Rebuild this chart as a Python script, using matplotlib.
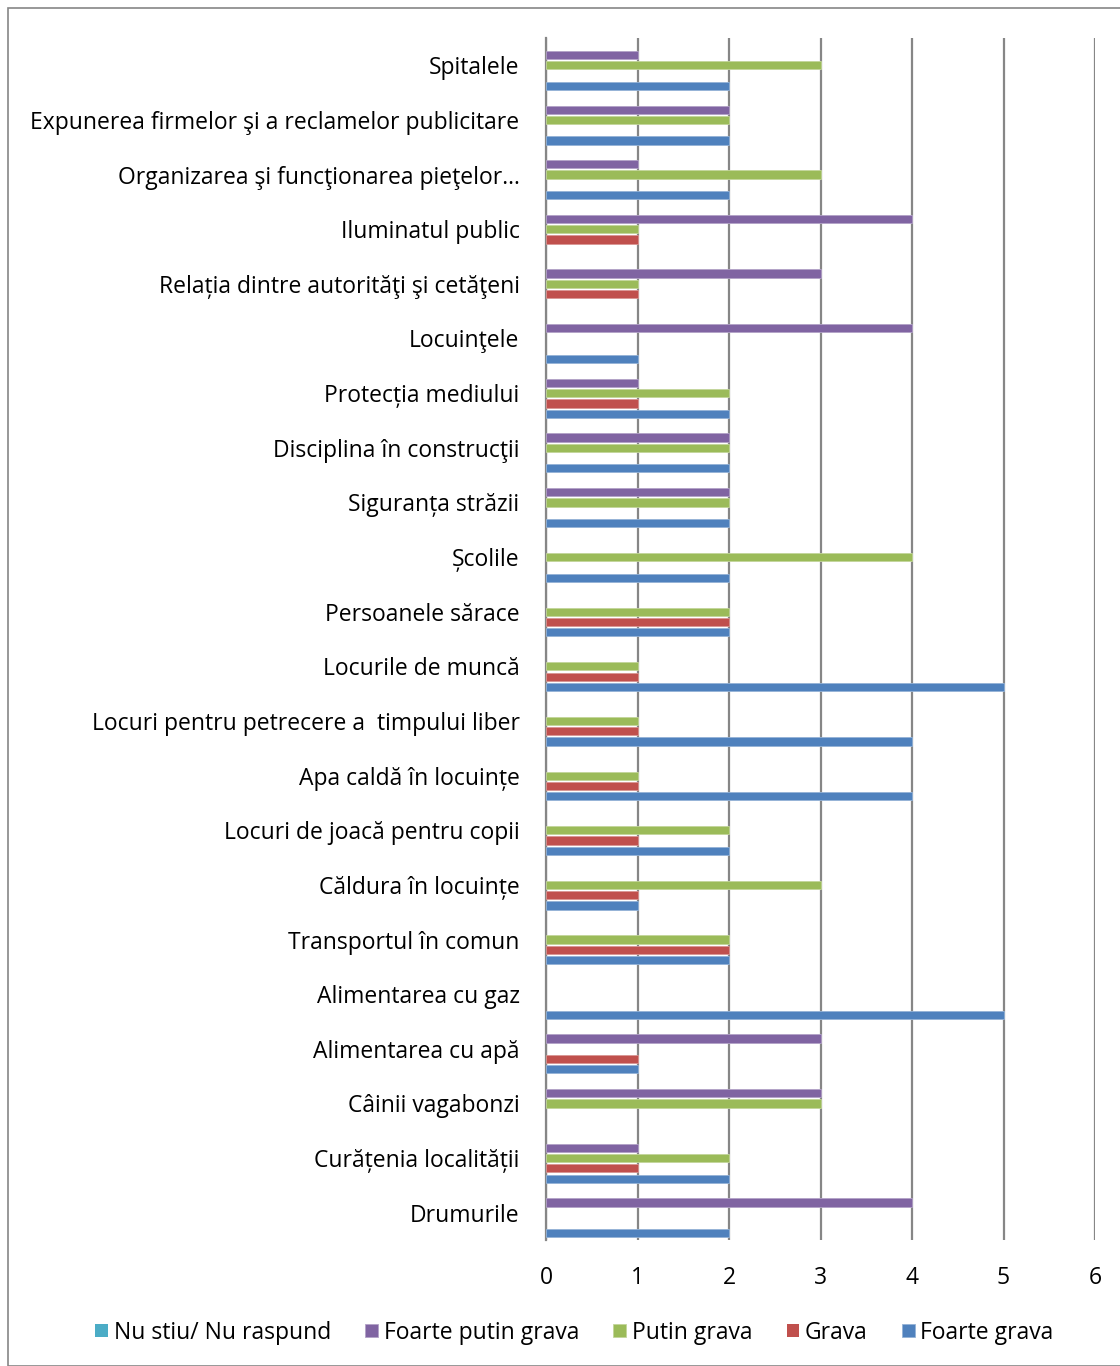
import numpy as np
import matplotlib.pyplot as plt
from matplotlib.patches import Rectangle

# categories, top to bottom as shown
categories = [
    "Spitalele",
    "Expunerea firmelor şi a reclamelor publicitare",
    "Organizarea şi funcţionarea pieţelor…",
    "Iluminatul public",
    "Relația dintre autorităţi şi cetăţeni",
    "Locuinţele",
    "Protecția mediului",
    "Disciplina în construcţii",
    "Siguranța străzii",
    "Școlile",
    "Persoanele sărace",
    "Locurile de muncă",
    "Locuri pentru petrecere a  timpului liber",
    "Apa caldă în locuințe",
    "Locuri de joacă pentru copii",
    "Căldura în locuințe",
    "Transportul în comun",
    "Alimentarea cu gaz",
    "Alimentarea cu apă",
    "Câinii vagabonzi",
    "Curățenia localității",
    "Drumurile",
]

nu_stiu = [0] * 22
foarte_putin_grava = [1, 2, 1, 4, 3, 4, 1, 2, 2, 0, 0, 0, 0, 0, 0, 0, 0, 0, 3, 3, 1, 4]
putin_grava = [3, 2, 3, 1, 1, 0, 2, 2, 2, 4, 2, 1, 1, 1, 2, 3, 2, 0, 0, 3, 2, 0]
grava = [0, 0, 0, 1, 1, 0, 1, 0, 0, 0, 2, 1, 1, 1, 1, 1, 2, 0, 1, 0, 1, 0]
foarte_grava = [2, 2, 2, 0, 0, 1, 2, 2, 2, 2, 2, 5, 4, 4, 2, 1, 2, 5, 1, 0, 2, 2]

series_names = ["Nu stiu/ Nu raspund", "Foarte putin grava", "Putin grava", "Grava", "Foarte grava"]
series_vals = [nu_stiu, foarte_putin_grava, putin_grava, grava, foarte_grava]
colors = ["#4BACC6", "#8064A2", "#9BBB59", "#C0504D", "#4F81BD"]
edges = ["#8fd0e0", "#b3a2c7", "#c3d69b", "#d99694", "#95b3d7"]

plt.rcParams['font.family'] = ['Open Sans', 'DejaVu Sans']

fig = plt.figure(figsize=(11.2, 13.66), dpi=100)
ax = fig.add_axes([0.4875, 0.0922, 0.4902, 0.8800])

n = len(categories)
ypos = np.arange(n)[::-1]
pitch = 0.188
bar_h = 0.15
offsets = [2, 1, 0, -1, -2]

for vals, off, c, ec, name in zip(series_vals, offsets, colors, edges, series_names):
    ecs = [ec if v > 0 else 'none' for v in vals]
    ax.barh(ypos + off * pitch, vals, height=bar_h, color=c, edgecolor=ecs,
            linewidth=0.6, label=name, zorder=3)

ax.set_xlim(0, 6)
ax.set_ylim(-0.5, n - 0.5)
ax.set_xticks(range(7))
ax.set_yticks(ypos)
ax.set_yticklabels(categories)
ax.tick_params(axis='both', length=0, labelsize=16.5)
ax.tick_params(axis='y', pad=19)
ax.tick_params(axis='x', pad=19)
ax.grid(axis='x', color='#868686', linewidth=1.6, zorder=0)
for s in ['top', 'right', 'bottom']:
    ax.spines[s].set_visible(False)
ax.spines['left'].set_color('#868686')
ax.spines['left'].set_linewidth(1.6)

handles, labels = ax.get_legend_handles_labels()
leg = fig.legend(handles, labels, loc='center', bbox_to_anchor=(0.513, 0.0245), ncol=5,
                 frameon=False, fontsize=16.5, handlelength=0.55, handleheight=0.55,
                 handletextpad=0.25, columnspacing=1.5)

# chart-area border
fig.patches.append(Rectangle((8 / 1120, 0), 1.2, 1 - 8 / 1366, transform=fig.transFigure,
                             fill=False, edgecolor='#868686', linewidth=1.2))

fig.savefig("out.png", dpi=100)
